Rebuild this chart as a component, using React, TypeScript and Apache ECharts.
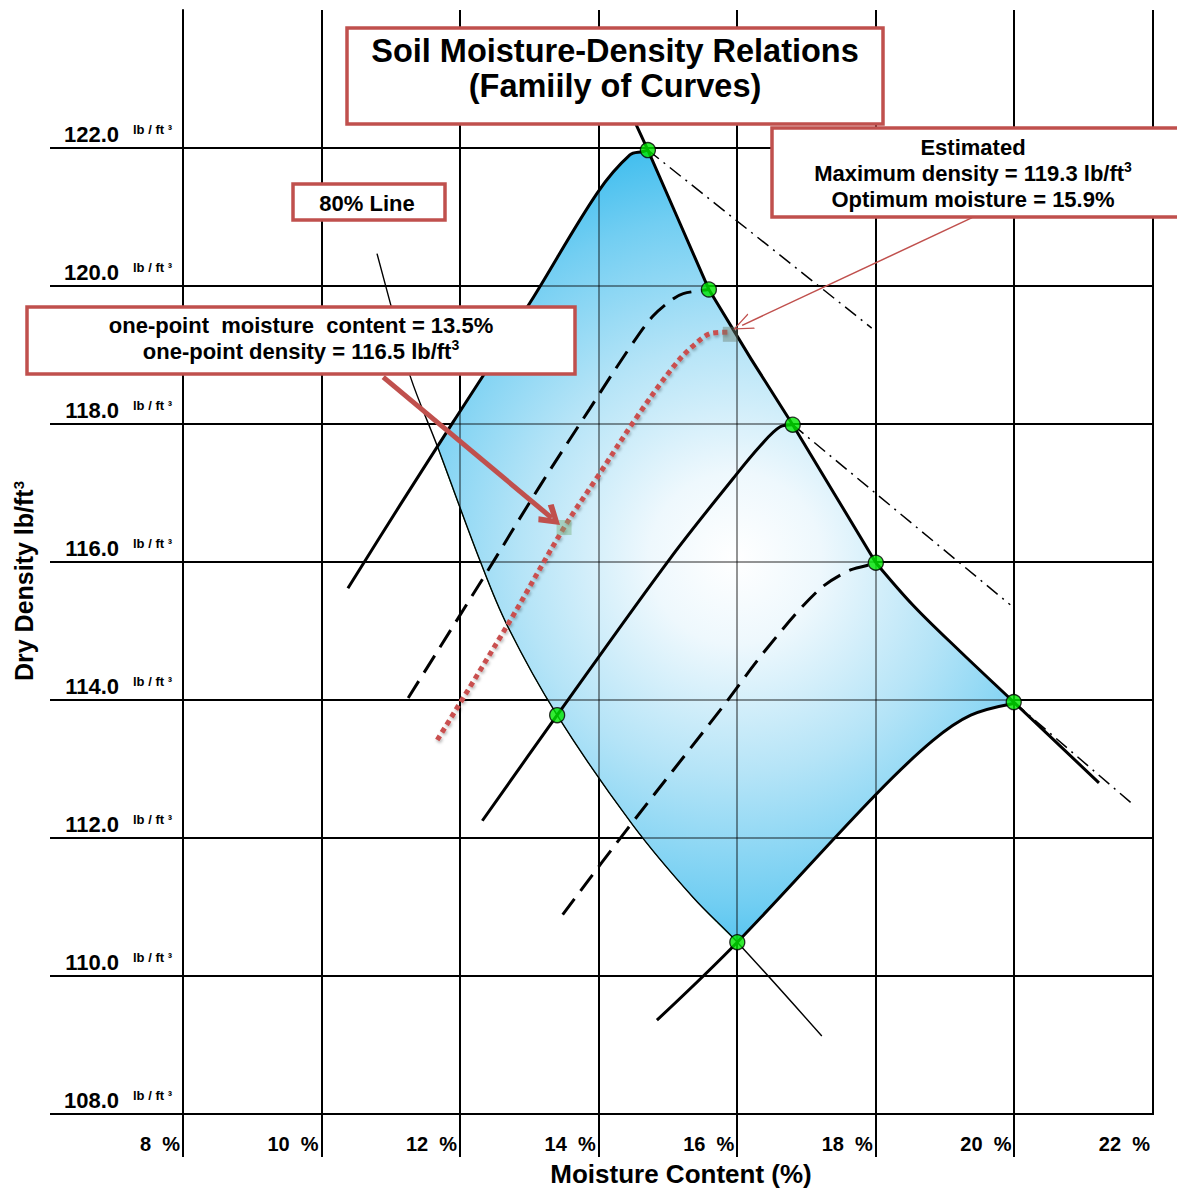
import React, { useEffect, useRef } from "react";
import * as echarts from "echarts";

const FONT = "'Liberation Sans', Arial, Helvetica, sans-serif";
const RED = "#C0504D";
const BLACK = "#000000";

// ---- axes ----
const xTicks = [8, 10, 12, 14, 16, 18, 20, 22];
const yTicks = [108, 110, 112, 114, 116, 118, 120, 122];
const xTickExtensions = [8, 10, 12, 14, 16, 18, 20];
const X_MIN = 8;
const X_MAX = 22;
const Y_MIN = 108;
const Y_MAX = 124;
const X_EXT_PX = 43; // vertical grid lines run below the 108 line
const Y_EXT_PX = 133; // horizontal grid lines run left of the axis

// ---- curves: [moisture %, dry density lb/ft3] ----
const curveA = [[10.38, 115.62], [11.13, 116.82], [11.9, 118.03], [13.01, 119.76], [13.98, 121.35], [14.45, 121.9], [14.64, 121.95], [14.71, 121.97]];
const curveB = [[11.25, 114.03], [12.39, 115.86], [13.15, 117.1], [13.87, 118.22], [14.45, 119.11], [14.78, 119.56], [15.07, 119.81], [15.22, 119.89], [15.59, 119.95]];
const curveC = [[11.67, 113.42], [12.68, 115.08], [13.5, 116.5], [13.98, 117.23], [14.55, 118.1], [15.07, 118.82], [15.36, 119.13], [15.65, 119.32], [15.9, 119.33]];
const curveD = [[12.32, 112.25], [13.4, 113.78], [15.03, 116.05], [15.94, 117.21], [16.33, 117.68], [16.62, 117.96], [16.8, 117.99]];
const curveE = [[13.48, 110.89], [14.39, 112.1], [15.75, 113.85], [16.43, 114.75], [17.15, 115.57], [17.58, 115.86], [17.87, 115.95], [18.0, 115.99]];
const curveF = [[14.84, 109.36], [16.0, 110.49], [17.99, 112.62], [18.82, 113.41], [19.37, 113.78], [19.99, 113.95]];
const optimumLine = [[14.54, 122.34], [14.71, 121.97], [15.15, 120.96], [15.59, 119.95], [16.2, 118.94], [16.8, 117.99], [17.4, 116.99], [18.0, 115.99], [18.54, 115.37], [19.21, 114.71], [19.99, 113.97], [21.22, 112.8]];
const line80 = [[10.8, 120.47], [10.99, 119.76], [11.28, 118.69], [11.67, 117.68], [12.29, 116.01], [12.68, 115.08], [13.4, 113.78], [14.49, 112.19], [15.36, 111.14], [16.0, 110.49], [17.22, 109.13]];
const zeroAirLine1 = [[14.71, 121.97], [17.94, 119.39]];
const zeroAirLine2 = [[16.8, 117.99], [19.94, 115.38]];
const zeroAirLine3 = [[19.99, 113.97], [21.73, 112.47]];

const peakPoints = [[14.71, 121.97], [15.59, 119.95], [16.8, 117.99], [18.0, 115.99], [19.99, 113.97], [13.4, 113.78], [16.0, 110.49]];
const onePoint = [13.5, 116.5];
const estimatedMax = [15.9, 119.3];

const thickArrow = [[10.89, 118.68], [13.32, 116.64]];
const thinArrow = [[19.39, 120.99], [16.07, 119.43]];

// the line of optimums bends at 18 %: straight above, gently curved below
const OPT_BEND = 18.0;
const optimumUpper = optimumLine.filter((p) => p[0] <= OPT_BEND);
const optimumLower = optimumLine.filter((p) => p[0] >= OPT_BEND);

// shaded zone boundary pieces
const fillTop = [line80[3], ...curveA.filter((p) => p[0] > 11.7)];
const fillRightUpper = optimumUpper.filter((p) => p[0] >= 14.71);
const fillRightLower = optimumLower.filter((p) => p[0] <= 19.99);
const fillBottom = curveF.filter((p) => p[0] >= 16).reverse();
const fillLeft = line80.filter((p) => p[0] >= 11.67 && p[0] <= 16).reverse();
const FILL_CENTER = [15.97, 116.05];

function bezierD(pts: number[][], s: number): string {
  const n = pts.length;
  const cp = (i: number) => {
    if (i === 0 || i === n - 1) return { before: pts[i], after: pts[i] };
    const p = pts[i], a = pts[i - 1], b = pts[i + 1];
    const vx = b[0] - a[0], vy = b[1] - a[1];
    const d0 = Math.hypot(p[0] - a[0], p[1] - a[1]);
    const d1 = Math.hypot(b[0] - p[0], b[1] - p[1]);
    const sum = d0 + d1 || 1;
    return {
      before: [p[0] - (vx * s * d0) / sum, p[1] - (vy * s * d0) / sum],
      after: [p[0] + (vx * s * d1) / sum, p[1] + (vy * s * d1) / sum],
    };
  };
  let d = "";
  for (let i = 0; i < n - 1; i++) {
    const c1 = cp(i).after, c2 = cp(i + 1).before, q = pts[i + 1];
    d += ` C${c1[0]},${c1[1]} ${c2[0]},${c2[1]} ${q[0]},${q[1]}`;
  }
  return d;
}

const lineSeries = (data: number[][], lineStyle: any, smooth: number, z = 3) => ({
  type: "line",
  data,
  smooth,
  symbol: "none",
  silent: true,
  z,
  lineStyle,
  emphasis: { disabled: true },
});

const solid = { color: BLACK, width: 3, type: "solid", join: "round" };
const dashed = { color: BLACK, width: 3, type: [20, 10] };
const dashDot = { color: BLACK, width: 1.5, type: [14, 6, 2, 6] };

const box = (x: number, y: number, w: number, h: number) => ({
  type: "rect",
  z: 50,
  shape: { x, y, width: w, height: h },
  style: { fill: "#ffffff", stroke: RED, lineWidth: 3.5 },
});

const txt = (text: string, x: number, y: number, size: number) => ({
  type: "text",
  z: 51,
  x,
  y,
  style: {
    text,
    fill: BLACK,
    align: "center",
    verticalAlign: "middle",
    textAlign: "center",
    textVerticalAlign: "middle",
    rich: {
      a: { fontFamily: FONT, fontWeight: "bold", fontSize: size, fill: BLACK, lineHeight: size + 4 },
      s: { fontFamily: FONT, fontWeight: "bold", fontSize: Math.round(size * 0.62), fill: BLACK, verticalAlign: "top" },
    },
  },
});

const THICK_HEAD = "path://M10,0 L20,15 L16,18 L10,8 L4,18 L0,15 Z";
const THIN_HEAD = "path://M10,0 L20,20 L18.2,20 L10,3 L1.8,20 L0,20 Z";

const gridLines = (api: any, stroke: string, extend: boolean) => {
  const out: any[] = [];
  const r = (v: number) => Math.round(v);
  xTicks.forEach((x) => {
    const top = api.coord([x, Y_MAX]);
    const bot = api.coord([x, Y_MIN]);
    const ext = extend && xTickExtensions.indexOf(x) >= 0 ? X_EXT_PX : 0;
    out.push({ type: "line", shape: { x1: r(top[0]), y1: r(top[1]), x2: r(bot[0]), y2: r(bot[1]) + ext }, style: { stroke, lineWidth: 2 } });
  });
  yTicks.forEach((y) => {
    const a = api.coord([X_MIN, y]);
    const b = api.coord([X_MAX, y]);
    const ext = extend ? Y_EXT_PX : 0;
    out.push({ type: "line", shape: { x1: r(a[0]) - ext, y1: r(a[1]), x2: r(b[0]) + 1, y2: r(b[1]) }, style: { stroke, lineWidth: 2 } });
  });
  return out;
};

export default function App() {
  const ref = useRef<HTMLDivElement>(null);
  useEffect(() => {
    const chart = echarts.init(ref.current!, null, { renderer: "svg" });
    const option: any = {
      animation: false,
      backgroundColor: "#ffffff",
      grid: { left: 183, top: 10, width: 970, height: 1107, containLabel: false },
      xAxis: {
        type: "value",
        min: X_MIN,
        max: X_MAX,
        interval: 2,
        name: "Moisture Content (%)",
        nameLocation: "middle",
        nameGap: 60,
        nameTextStyle: { fontFamily: FONT, fontWeight: "bold", fontSize: 26, color: BLACK, verticalAlign: "middle", padding: [0, 0, 0, 26] },
        axisLine: { show: true, lineStyle: { color: BLACK, width: 2 } },
        axisTick: { show: false },
        axisLabel: {
          formatter: (v: number) => `${v}  %`,
          fontFamily: FONT,
          fontWeight: "bold",
          fontSize: 20,
          color: BLACK,
          align: "right",
          verticalAlign: "middle",
          margin: 30,
          padding: [0, 3, 0, 0],
          showMinLabel: true,
          showMaxLabel: true,
        },
        splitLine: { show: false },
      },
      yAxis: {
        type: "value",
        min: Y_MIN,
        max: Y_MAX,
        interval: 2,
        name: "{a|Dry Density lb/ft}{s|3}",
        nameLocation: "middle",
        nameRotate: 90,
        nameGap: 159,
        nameTextStyle: {
          verticalAlign: "middle",
          padding: [0, 38, 0, 0],
          rich: {
            a: { fontFamily: FONT, fontWeight: "bold", fontSize: 25, color: BLACK, lineHeight: 27 },
            s: { fontFamily: FONT, fontWeight: "bold", fontSize: 15, color: BLACK, verticalAlign: "top" },
          },
        },
        axisLine: { show: true, lineStyle: { color: BLACK, width: 2 } },
        axisTick: { show: false },
        axisLabel: {
          formatter: (v: number) => `{n|${v.toFixed(1)}}{u|lb / ft ³}`,
          verticalAlign: "bottom",
          margin: 11,
          padding: [0, 0, 3, 0],
          showMaxLabel: false,
          rich: {
            n: { fontFamily: FONT, fontWeight: "bold", fontSize: 22, color: BLACK, lineHeight: 22 },
            u: { fontFamily: FONT, fontWeight: "bold", fontSize: 13, color: BLACK, padding: [0, 0, 0, 14], verticalAlign: "top" },
          },
        },
        splitLine: { show: false },
      },
      series: [
        {
          type: "custom",
          coordinateSystem: "cartesian2d",
          silent: true,
          clip: false,
          z: 1,
          data: [FILL_CENTER],
          renderItem: (_params: any, api: any) => ({ type: "group", children: gridLines(api, BLACK, true) }),
        },
        {
          type: "custom",
          coordinateSystem: "cartesian2d",
          silent: true,
          z: 2,
          data: [FILL_CENTER],
          renderItem: (_params: any, api: any) => {
            const toPx = (pts: number[][]) => pts.map((p) => api.coord(p));
            const segs = [
              { pts: toPx(fillTop), s: 0.35 },
              { pts: toPx(fillRightUpper), s: 0 },
              { pts: toPx(fillRightLower), s: 0.35 },
              { pts: toPx(fillBottom), s: 0.35 },
              { pts: toPx(fillLeft), s: 0.35 },
            ];
            let d = `M${segs[0].pts[0][0]},${segs[0].pts[0][1]}`;
            segs.forEach((sg) => {
              d += bezierD(sg.pts, sg.s);
            });
            d += " Z";
            const c = api.coord(FILL_CENTER);
            const children: any[] = [
              {
                type: "path",
                shape: { pathData: d },
                style: {
                  fill: new echarts.graphic.RadialGradient(
                    c[0],
                    c[1],
                    430,
                    [
                      { offset: 0, color: "#ffffff" },
                      { offset: 0.2, color: "#eef8fd" },
                      { offset: 0.5, color: "#b5e4f7" },
                      { offset: 0.8, color: "#72cef2" },
                      { offset: 1, color: "#3bbcee" },
                    ],
                    true
                  ),
                  stroke: "#1aa64a",
                  lineWidth: 1,
                },
              },
              ...gridLines(api, "rgba(0,0,0,0.42)", false),
            ];
            return { type: "group", children };
          },
        },
        lineSeries(line80, { color: BLACK, width: 1.4, type: "solid" }, 0.35),
        lineSeries(zeroAirLine1, dashDot, 0),
        lineSeries(zeroAirLine2, dashDot, 0),
        lineSeries(zeroAirLine3, dashDot, 0),
        lineSeries(optimumUpper, solid, 0),
        lineSeries(optimumLower, solid, 0.35),
        lineSeries(curveA, solid, 0.35),
        lineSeries(curveB, dashed, 0.35),
        lineSeries(
          curveC,
          { color: "#C9504F", width: 5, type: [5, 4], shadowColor: "rgba(0,0,0,0.3)", shadowBlur: 3, shadowOffsetX: 1, shadowOffsetY: 2 },
          0.35
        ),
        lineSeries(curveD, solid, 0.35),
        lineSeries(curveE, dashed, 0.35),
        lineSeries(curveF, solid, 0.35),
        {
          type: "scatter",
          silent: true,
          z: 4,
          symbol: "rect",
          symbolSize: 15,
          data: [onePoint],
          itemStyle: { color: "rgba(120,175,120,0.55)" },
        },
        {
          type: "scatter",
          silent: true,
          z: 4,
          symbol: "rect",
          symbolSize: 15,
          data: [estimatedMax],
          itemStyle: { color: "rgba(110,125,110,0.55)" },
        },
        {
          type: "scatter",
          silent: true,
          z: 5,
          symbol: "circle",
          symbolSize: 15,
          data: peakPoints,
          itemStyle: { color: "#00e600", borderColor: BLACK, borderWidth: 1.3 },
        },
        {
          type: "scatter",
          silent: true,
          z: 6,
          data: [],
          markLine: {
            silent: true,
            symbol: ["none", THICK_HEAD],
            symbolSize: [24, 22],
            label: { show: false },
            lineStyle: { color: RED, width: 5, type: "solid" },
            itemStyle: { color: RED },
            data: [[{ coord: thickArrow[0] }, { coord: thickArrow[1] }]],
          },
        },
        {
          type: "scatter",
          silent: true,
          z: 6,
          data: [],
          markLine: {
            silent: true,
            symbol: ["none", THIN_HEAD],
            symbolSize: [17, 20],
            label: { show: false },
            lineStyle: { color: RED, width: 1.5, type: "solid" },
            itemStyle: { color: RED },
            data: [[{ coord: thinArrow[0] }, { coord: thinArrow[1] }]],
          },
        },
      ],
      graphic: [
        box(347, 28, 536, 96),
        txt("{a|Soil Moisture-Density Relations}", 615, 51, 32.5),
        txt("{a|(Famiily of Curves)}", 615, 86, 32.5),
        box(293, 184, 152, 36),
        txt("{a|80% Line}", 367, 203, 22),
        box(27, 307, 548, 67),
        txt("{a|one-point  moisture  content = 13.5%}", 301, 325, 22),
        txt("{a|one-point density = 116.5 lb/ft}{s|3}", 301, 351, 22),
        box(772, 128, 412, 89),
        txt("{a|Estimated}", 973, 147, 22),
        txt("{a|Maximum density = 119.3 lb/ft}{s|3}", 973, 173, 22),
        txt("{a|Optimum moisture = 15.9%}", 973, 199, 22),
      ],
    };
    chart.setOption(option);
    return () => chart.dispose();
  }, []);
  return <div ref={ref} style={{ position: "absolute", left: 0, top: 0, width: 1177, height: 1192 }} />;
}
